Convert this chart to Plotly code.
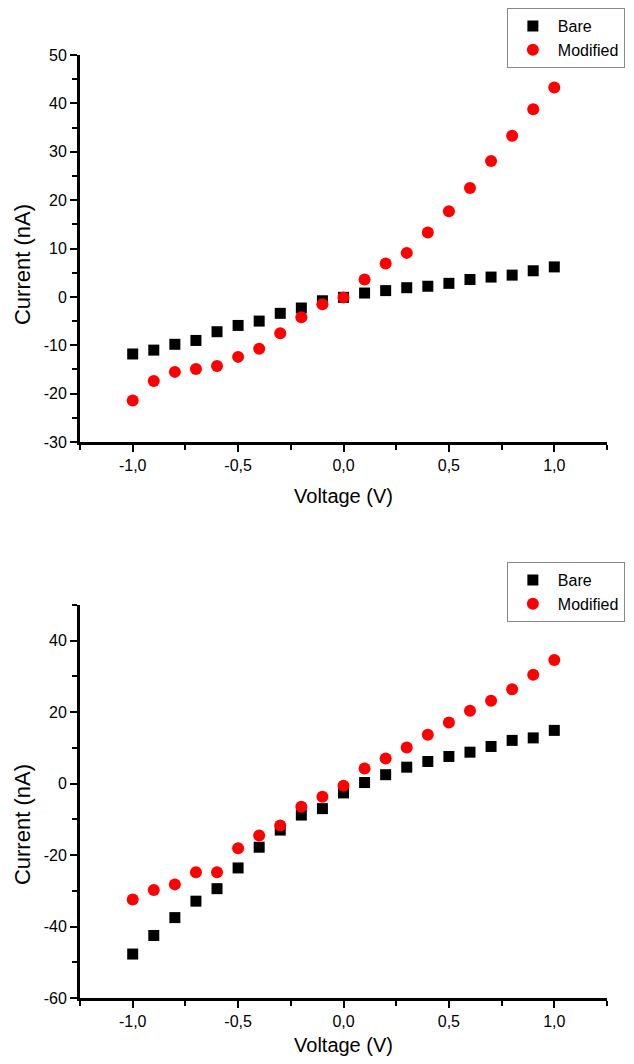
import plotly.graph_objects as go

voltage = [-1.0, -0.9, -0.8, -0.7, -0.6, -0.5, -0.4, -0.3, -0.2, -0.1, 0.0,
           0.1, 0.2, 0.3, 0.4, 0.5, 0.6, 0.7, 0.8, 0.9, 1.0]

bare_top = [-11.8, -11.0, -9.8, -9.0, -7.2, -5.9, -5.0, -3.4, -2.3, -0.8, -0.1,
            0.8, 1.3, 1.9, 2.2, 2.8, 3.6, 4.1, 4.5, 5.4, 6.2]
mod_top = [-21.4, -17.4, -15.5, -14.9, -14.3, -12.4, -10.7, -7.5, -4.2, -1.5, -0.1,
           3.6, 6.9, 9.1, 13.3, 17.7, 22.5, 28.1, 33.3, 38.8, 43.3]

bare_bot = [-47.7, -42.5, -37.5, -32.9, -29.4, -23.6, -17.8, -13.0, -8.8, -7.0, -2.6,
            0.3, 2.5, 4.6, 6.2, 7.6, 8.8, 10.4, 12.1, 12.8, 14.9]
mod_bot = [-32.4, -29.8, -28.2, -24.8, -24.8, -18.1, -14.5, -11.7, -6.5, -3.7, -0.6,
           4.2, 7.0, 10.1, 13.7, 17.1, 20.4, 23.2, 26.4, 30.5, 34.6]

x_tickvals = [-1.0, -0.5, 0.0, 0.5, 1.0]
x_ticktext = ["-1,0", "-0,5", "0,0", "0,5", "1,0"]
y_top_ticks = [-30, -20, -10, 0, 10, 20, 30, 40, 50]
y_bot_ticks = [-60, -40, -20, 0, 20, 40]

FONT = "Arial, Liberation Sans, sans-serif"

fig = go.Figure()

sq = dict(symbol="square", size=11, color="black")
ci = dict(symbol="circle", size=12, color="#FF0000")

fig.add_trace(go.Scatter(x=voltage, y=bare_top, mode="markers", marker=sq, name="Bare",
                         xaxis="x", yaxis="y", legend="legend"))
fig.add_trace(go.Scatter(x=voltage, y=mod_top, mode="markers", marker=ci, name="Modified",
                         xaxis="x", yaxis="y", legend="legend"))
fig.add_trace(go.Scatter(x=voltage, y=bare_bot, mode="markers", marker=sq, name="Bare",
                         xaxis="x2", yaxis="y2", legend="legend2"))
fig.add_trace(go.Scatter(x=voltage, y=mod_bot, mode="markers", marker=ci, name="Modified",
                         xaxis="x2", yaxis="y2", legend="legend2"))

def xax(anchor):
    return dict(
        range=[-1.25, 1.25], anchor=anchor, domain=[0, 1],
        tickvals=x_tickvals, ticktext=x_ticktext,
        showline=True, linecolor="black", linewidth=3,
        ticks="outside", ticklen=7, tickwidth=2, tickcolor="black",
        minor=dict(tickvals=[-1.25, -0.75, -0.25, 0.25, 0.75, 1.25], ticks="outside",
                   ticklen=5, tickwidth=2, tickcolor="black"),
        showgrid=False, zeroline=False, automargin=False,
        tickfont=dict(family=FONT, size=16, color="black"),
        title=dict(text="Voltage (V)", font=dict(family=FONT, size=20, color="black"), standoff=16),
    )

def yax(anchor, domain, rng, ticks, minor_dtick):
    return dict(
        range=rng, anchor=anchor, domain=domain,
        tickvals=ticks, ticktext=[str(t) for t in ticks],
        showline=True, linecolor="black", linewidth=3,
        ticks="outside", ticklen=7, tickwidth=2, tickcolor="black",
        minor=dict(dtick=minor_dtick, tick0=0, ticks="outside", ticklen=5, tickwidth=2,
                   tickcolor="black"),
        showgrid=False, zeroline=False, automargin=False,
        tickfont=dict(family=FONT, size=16, color="black"),
    )

leg = dict(xanchor="left", yanchor="top",
           bordercolor="#888888", borderwidth=1, bgcolor="white",
           font=dict(family=FONT, size=16, color="black"),
           tracegroupgap=0, itemwidth=40)

ytitle = dict(text="Current (nA)", textangle=-90, showarrow=False,
              xref="paper", yref="paper", x=-0.11, xanchor="center", yanchor="middle",
              font=dict(family=FONT, size=22, color="black"))

fig.update_layout(
    width=626, height=1048,
    margin=dict(l=72, r=27, t=0, b=58),
    paper_bgcolor="white", plot_bgcolor="white",
    font=dict(family=FONT, color="black"),
    xaxis=xax("y"),
    yaxis=yax("x", [0.5616, 0.9525], [-30, 50], y_top_ticks, 5),
    xaxis2=xax("y2"),
    yaxis2=yax("x2", [0.0, 0.3970], [-60, 50], y_bot_ticks, 10),
    legend=dict(x=0.81, y=1.0, **leg),
    legend2=dict(x=0.81, y=0.4404, **leg),
    showlegend=True,
    annotations=[dict(y=0.7404, **ytitle), dict(y=0.1747, **ytitle)],
)

fig.write_html("out.html")
